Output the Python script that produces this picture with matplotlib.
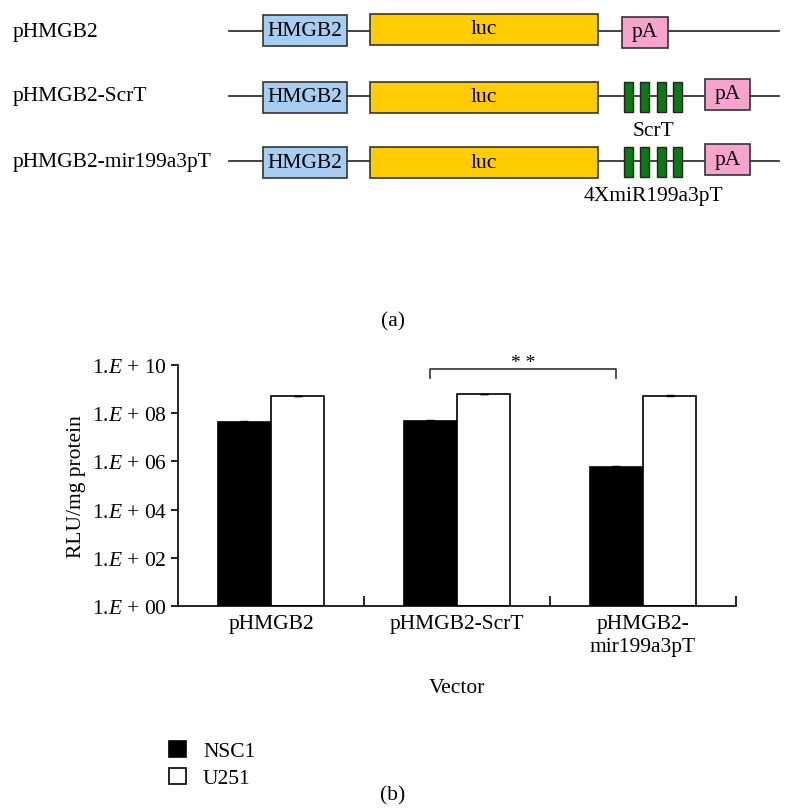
import matplotlib
matplotlib.use("Agg")
import matplotlib.pyplot as plt
from matplotlib.patches import Rectangle
import numpy as np

plt.rcParams['font.family'] = ['Liberation Serif', 'DejaVu Serif']
plt.rcParams['mathtext.fontset'] = 'custom'
plt.rcParams['mathtext.rm'] = 'Liberation Serif'
plt.rcParams['mathtext.it'] = 'Liberation Serif:italic'

# ---------------- data ----------------
constructs = ['pHMGB2', 'pHMGB2-ScrT', 'pHMGB2-mir199a3pT']
target_labels = ['', 'ScrT', '4XmiR199a3pT']

groups = ['pHMGB2', 'pHMGB2-ScrT', 'pHMGB2-\nmir199a3pT']
series = ['NSC1', 'U251']
nsc1 = [4.4e7, 4.9e7, 5.6e5]
nsc1_err = [0.45e7, 0.5e7, 0.75e5]
u251 = [5.0e8, 6.0e8, 5.4e8]
u251_err = [0.25e8, 0.3e8, 0.25e8]
ytick_exp = [0, 2, 4, 6, 8, 10]
sig_label = '* *'

W, H = 793, 812
FS = 15.5
fig = plt.figure(figsize=(W / 100, H / 100), dpi=100)

# ---------------- panel (a): construct diagram ----------------
dax = fig.add_axes([0, 0, 1, 1])
dax.set_xlim(0, W)
dax.set_ylim(H, 0)
dax.axis('off')

blue = '#a6cdf2'
gold = '#ffcc00'
pink = '#f8a3cc'
green = '#0b7a12'
rows_y = [32, 97, 162]

def box(x0, x1, yc, h, color, text=None, dy=0, tdy=0):
    dax.add_patch(Rectangle((x0, yc - h / 2 + dy), x1 - x0, h, facecolor=color,
                            edgecolor='#333333', lw=1.2, zorder=3))
    if text:
        dax.text((x0 + x1) / 2, yc + dy + tdy, text, ha='center', va='center',
                 fontsize=FS, zorder=4)

for i, (name, yc) in enumerate(zip(constructs, rows_y)):
    dax.text(13, yc, name, ha='left', va='center', fontsize=FS)
    dax.plot([229, 779], [yc, yc], color='#333333', lw=1.3, zorder=2)
    box(263, 347, yc, 31, blue, 'HMGB2', dy=-1 if i == 0 else 1)
    box(370, 598, yc, 31, gold, 'luc', dy=-2 if i == 0 else 1, tdy=0)
    if i == 0:
        box(622, 668, yc, 31, pink, 'pA', dy=1)
    else:
        for gx in [624, 640, 657, 673]:
            dax.add_patch(Rectangle((gx, yc - 14), 9, 30, facecolor=green,
                                    edgecolor='#222222', lw=1.0, zorder=3))
        box(705, 750, yc, 31, pink, 'pA', dy=-2)
        dax.text(653, yc + 35, target_labels[i], ha='center', va='center',
                 fontsize=FS)

dax.text(W / 2 - 4, 322, '(a)', ha='center', va='center', fontsize=FS)
dax.text(W / 2 - 4, 796, '(b)', ha='center', va='center', fontsize=FS)

# ---------------- panel (b): bar chart ----------------
left, right = 178 / W, 736 / W
bottom, top = 1 - 607 / H, 1 - 366 / H
ax = fig.add_axes([left, bottom, right - left, top - bottom])
ax.set_yscale('log')
ax.set_ylim(1, 1e10)
ax.set_xlim(-0.5, 2.5)

x = np.arange(len(groups))
bw = 0.285
b1 = ax.bar(x - bw / 2, nsc1, bw, bottom=1, color='black', edgecolor='black',
            lw=1.2, label=series[0], zorder=2)
b2 = ax.bar(x + bw / 2, u251, bw, bottom=1, color='white', edgecolor='black',
            lw=1.2, label=series[1], zorder=2)
ax.errorbar(x - bw / 2, nsc1, yerr=[np.zeros(3), nsc1_err], fmt='none',
            ecolor='black', elinewidth=1, capsize=3, zorder=3)
ax.errorbar(x + bw / 2, u251, yerr=[np.zeros(3), u251_err], fmt='none',
            ecolor='black', elinewidth=1, capsize=3, zorder=3)

for s in ['top', 'right']:
    ax.spines[s].set_visible(False)
for s in ['left', 'bottom']:
    ax.spines[s].set_linewidth(1.2)

ax.set_yticks([10.0 ** e for e in ytick_exp])
ax.set_yticklabels([r'1.$E$ + %02d' % e for e in ytick_exp], fontsize=FS)
ax.yaxis.set_minor_locator(matplotlib.ticker.NullLocator())
ax.tick_params(axis='y', direction='out', length=5, width=1.2, pad=3)

ax.set_xticks(x)
ax.set_xticklabels(groups, fontsize=FS, linespacing=1.25)
ax.tick_params(axis='x', which='major', length=0, pad=6)
ax.set_xticks([0.5, 1.5, 2.5], minor=True)
ax.tick_params(axis='x', which='minor', direction='in', length=7, width=1.2)

ax.set_ylabel('RLU/mg protein', fontsize=FS, labelpad=4)
ax.set_xlabel('Vector', fontsize=FS, labelpad=16)

# significance bracket
x1, x2 = 1 - bw / 2, 2 - bw / 2
yb, yt = 2.9e9, 6.8e9
ax.plot([x1, x1, x2, x2], [yb, yt, yt, yb], color='#333333', lw=1.2,
        clip_on=False, zorder=4)
ax.text((x1 + x2) / 2, 1.3e10, sig_label, ha='center', va='center',
        fontsize=14, clip_on=False)

# legend
ax.legend(handles=[b1, b2], loc='upper left',
          bbox_to_anchor=(160 / W, 1 - 733 / H), bbox_transform=fig.transFigure,
          frameon=False, fontsize=FS, handlelength=0.8, handleheight=0.8,
          handletextpad=0.8, labelspacing=0.3, borderaxespad=0)

fig.savefig('out.png', dpi=100)
